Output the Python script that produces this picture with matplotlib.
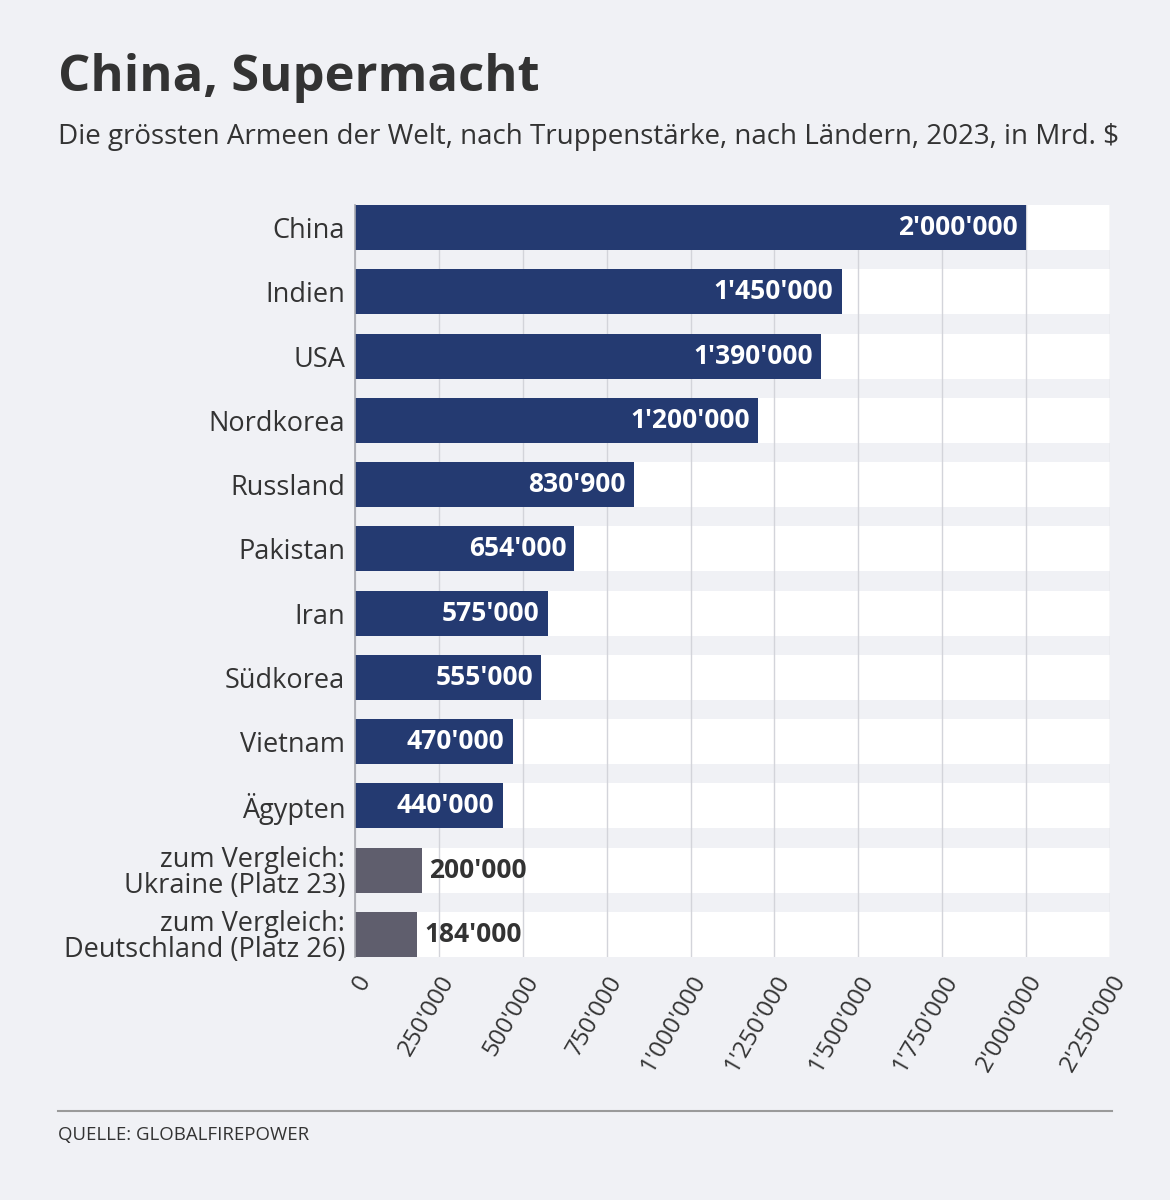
import matplotlib
matplotlib.use("Agg")
import matplotlib.pyplot as plt
from matplotlib.ticker import FuncFormatter, MultipleLocator

BG = "#f0f1f5"
NAVY = "#243a71"
GREYBAR = "#5f5e6d"
INK = "#333333"
GRID = "#d3d4da"

plt.rcParams["font.family"] = ["Open Sans", "DejaVu Sans"]

countries = ["China", "Indien", "USA", "Nordkorea", "Russland", "Pakistan",
             "Iran", "Südkorea", "Vietnam", "Ägypten",
             "zum Vergleich:\nUkraine (Platz 23)",
             "zum Vergleich:\nDeutschland (Platz 26)"]
troops = [2000000, 1450000, 1390000, 1200000, 830900, 654000,
          575000, 555000, 470000, 440000, 200000, 184000]
is_comparison = [False] * 10 + [True, True]


def swiss(v):
    return f"{int(v):,}".replace(",", "'")


fig = plt.figure(figsize=(11.7, 12), dpi=100, facecolor=BG)
ax = fig.add_axes([355 / 1170, 1 - 957 / 1200, 755 / 1170, 752 / 1200])
ax.set_facecolor(BG)

xmax = 2250000
ys = list(range(len(countries)))
h = 0.7
# white row bands at the back, grid (axisbelow -> 0.5) above them, bars on top
ax.barh(ys, [xmax] * len(ys), height=h, color="white", zorder=0.2)
ax.set_xlim(0, xmax)
ax.set_ylim(len(ys) - 1 + h / 2, -h / 2)
ax.xaxis.set_major_locator(MultipleLocator(250000))
ax.set_axisbelow(True)
ax.grid(axis="x", color=GRID, linewidth=1)

colors = [GREYBAR if c else NAVY for c in is_comparison]
ax.barh(ys, troops, height=h, color=colors, zorder=2)

for y, v, comp in zip(ys, troops, is_comparison):
    if comp:
        ax.text(v + 22000, y, swiss(v), ha="left", va="center",
                color=INK, fontsize=19, fontweight="bold", zorder=3)
    else:
        ax.text(v - 24000, y, swiss(v), ha="right", va="center",
                color="white", fontsize=19, fontweight="bold", zorder=3)

ax.set_yticks(ys, countries)
ax.xaxis.set_major_formatter(FuncFormatter(lambda v, p: swiss(v)))
for lab in ax.get_xticklabels():
    lab.set_rotation(60)
    lab.set_ha("right")
    lab.set_rotation_mode("anchor")
ax.tick_params(axis="x", length=0, pad=10, labelsize=17.5, labelcolor=INK)
ax.tick_params(axis="y", length=0, pad=7, labelsize=19.5, labelcolor=INK)
for lab in ax.get_yticklabels():
    lab.set_linespacing(0.9)

for side in ("top", "right", "bottom"):
    ax.spines[side].set_visible(False)
ax.spines["left"].set_color("#a9aab0")
ax.spines["left"].set_linewidth(1.2)
ax.spines["left"].set_zorder(4)

fig.text(58 / 1170, 1 - 78 / 1200, "China, Supermacht", fontsize=36.5,
         fontweight="bold", color=INK, va="center", ha="left")
fig.text(58 / 1170, 1 - 137 / 1200,
         "Die grössten Armeen der Welt, nach Truppenstärke, nach Ländern, 2023, in Mrd. $",
         fontsize=20, color=INK, va="center", ha="left")

fig.add_artist(plt.Line2D([58 / 1170, 1112 / 1170], [1 - 1111 / 1200] * 2,
                          color="#9a9a9a", linewidth=1.5))
fig.text(58 / 1170, 1 - 1135 / 1200, "QUELLE: GLOBALFIREPOWER", fontsize=13.4,
         color=INK, va="center", ha="left")

fig.savefig("out.png", facecolor=BG)
